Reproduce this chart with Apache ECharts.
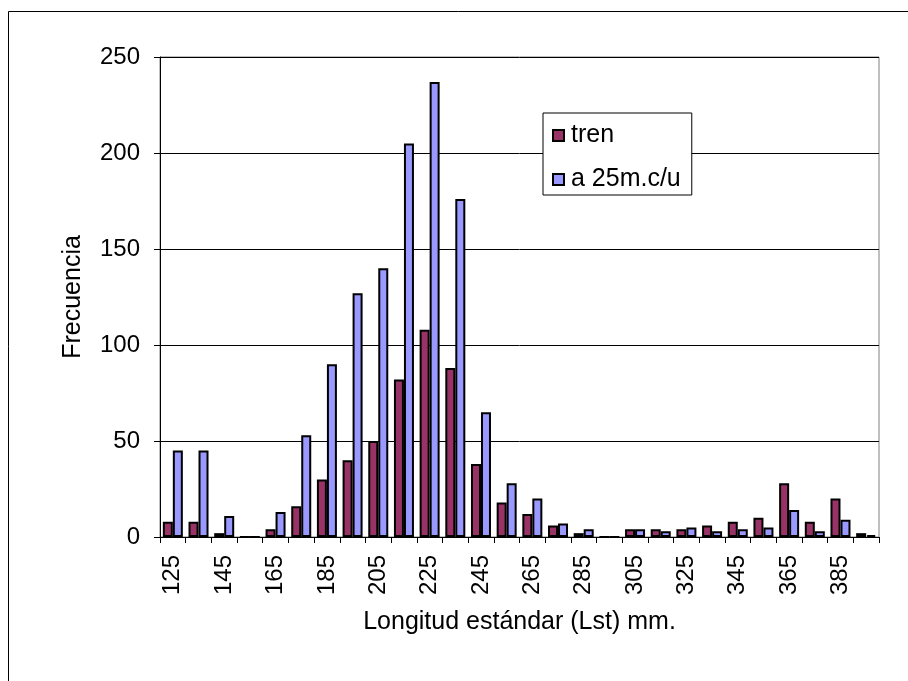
<!DOCTYPE html>
<html>
<head>
<meta charset="utf-8">
<script src="https://cdn.jsdelivr.net/npm/echarts@6/dist/echarts.min.js"></script>
<style>
  html, body { margin: 0; padding: 0; background: #fff; }
  #chart { width: 908px; height: 681px; }
</style>
</head>
<body>
<div id="chart"></div>
<script>
// Longitud estándar (mm), clases de 10 en 10
const categories = ['125', '135', '145', '155', '165', '175', '185', '195', '205', '215',
  '225', '235', '245', '255', '265', '275', '285', '295', '305', '315',
  '325', '335', '345', '355', '365', '375', '385', '395']

const tren = [8, 8, 2, 0, 4, 16, 30, 40, 50, 82,
  108, 88, 38, 18, 12, 6, 2, 0, 4, 4,
  4, 6, 8, 10, 28, 8, 20, 2]

const a25 = [45, 45, 11, 0, 13, 53, 90, 127, 140, 205,
  237, 176, 65, 28, 20, 7, 4, 0, 4, 3,
  5, 3, 4, 5, 14, 3, 9, 1]

const yTicks = [0, 50, 100, 150, 200, 250]

const FONT = 'Liberation Sans, Arial, sans-serif'
const FS = 24      // etiquetas de los ejes
const FS_NAME = 25 // títulos y leyenda

const chart = echarts.init(document.getElementById('chart'), null, { renderer: 'canvas' })

const option = {
  animation: false,
  backgroundColor: '#fff',
  textStyle: { fontFamily: FONT, color: '#000' },
  graphic: [
    {
      type: 'rect',
      shape: { x: 8.5, y: 11.5, width: 1000, height: 1000 },
      style: { fill: 'none', stroke: '#000', lineWidth: 1 },
      silent: true
    }
  ],
  grid: {
    left: 160,
    top: 57,
    right: 29,
    bottom: 144,
    show: true,
    borderColor: '#808080',
    borderWidth: 1,
    backgroundColor: 'transparent'
  },
  legend: {
    orient: 'vertical',
    left: 543,
    top: 113,
    padding: [10, 11, 3, 9],
    itemGap: 19,
    itemWidth: 11,
    itemHeight: 11,
    icon: 'rect',
    backgroundColor: '#fff',
    borderColor: '#000',
    borderWidth: 1,
    textStyle: { fontFamily: FONT, fontSize: FS_NAME, color: '#000', padding: [0, 0, 0, 2] },
    data: ['tren', 'a 25m.c/u']
  },
  xAxis: {
    type: 'category',
    data: categories,
    name: 'Longitud estándar (Lst) mm.',
    nameLocation: 'middle',
    nameGap: 73,
    nameTextStyle: { fontFamily: FONT, fontSize: FS_NAME, color: '#000' },
    axisLine: { lineStyle: { color: '#000', width: 1 } },
    axisTick: { show: true, alignWithLabel: false, interval: 0, length: 6, lineStyle: { color: '#000' } },
    axisLabel: {
      interval: 1,
      rotate: 90,
      margin: 18,
      fontFamily: FONT,
      fontSize: FS,
      color: '#000'
    },
    splitLine: { show: false }
  },
  yAxis: {
    type: 'value',
    min: yTicks[0],
    max: yTicks[yTicks.length - 1],
    interval: 50,
    name: 'Frecuencia',
    nameLocation: 'middle',
    nameRotate: 90,
    nameGap: 74,
    nameTextStyle: { fontFamily: FONT, fontSize: FS_NAME, color: '#000' },
    axisLine: { show: true, lineStyle: { color: '#000', width: 1 } },
    axisTick: { show: true, length: 6, lineStyle: { color: '#000' } },
    axisLabel: { margin: 20, fontFamily: FONT, fontSize: FS, color: '#000' },
    splitLine: { show: true, lineStyle: { color: '#000', width: 1 } }
  },
  series: [
    {
      name: 'tren',
      type: 'bar',
      data: tren,
      barWidth: 10,
      barGap: '0%',
      itemStyle: { color: '#993366', borderColor: '#000', borderWidth: 2 }
    },
    {
      name: 'a 25m.c/u',
      type: 'bar',
      data: a25,
      barWidth: 10,
      barGap: '0%',
      itemStyle: { color: '#9999FF', borderColor: '#000', borderWidth: 2 }
    }
  ]
}

chart.setOption(option)
</script>
</body>
</html>
